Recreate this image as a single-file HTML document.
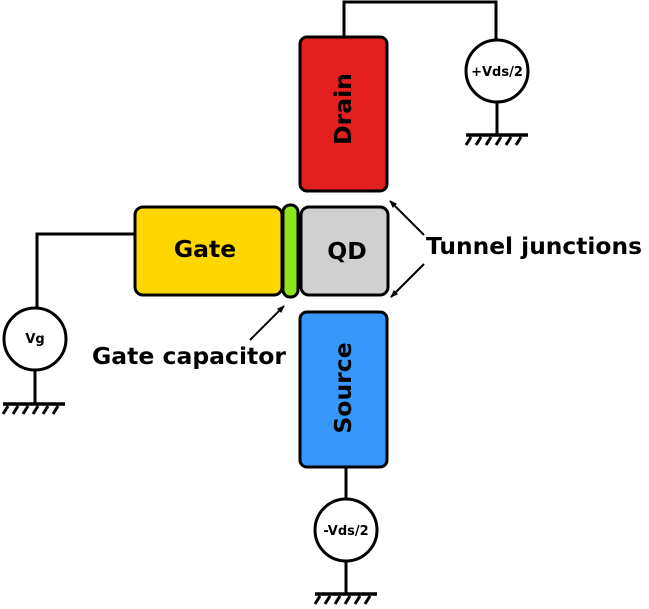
<!DOCTYPE html>
<html><head><style>html,body{margin:0;padding:0;background:#fff;}svg{display:block;}</style></head>
<body>
<svg width="649" height="609" viewBox="0 0 649 609" xmlns="http://www.w3.org/2000/svg" font-family="DejaVu Sans, Liberation Sans, sans-serif" font-weight="bold">
<defs>
<marker id="ar" markerWidth="8" markerHeight="6" refX="7" refY="3" orient="auto" markerUnits="userSpaceOnUse"><path d="M0,0 L8,3 L0,6 Z" fill="#000"/></marker>
<g id="gnd"><line x1="-31" y1="0" x2="31" y2="0" stroke="#000" stroke-width="3.5"/>
<g stroke="#000" stroke-width="3"><line x1="-26" y1="2" x2="-31" y2="10"/><line x1="-16" y1="2" x2="-21" y2="10"/><line x1="-6" y1="2" x2="-11" y2="10"/><line x1="4" y1="2" x2="-1" y2="10"/><line x1="14" y1="2" x2="9" y2="10"/><line x1="24" y1="2" x2="19" y2="10"/></g></g>
</defs>
<g fill="none" stroke="#000" stroke-width="3">
<polyline points="344,37 344,2 496,2 496,40"/>
<line x1="497" y1="102" x2="497" y2="135"/>
<polyline points="135,234 37,234 37,308"/>
<line x1="35" y1="370" x2="35" y2="404"/>
<line x1="346" y1="467" x2="346" y2="499"/>
<line x1="346" y1="561" x2="346" y2="594"/>
</g>
<use href="#gnd" x="497" y="135"/>
<use href="#gnd" x="34" y="404"/>
<use href="#gnd" x="346" y="594"/>
<g stroke="#000" stroke-width="3">
<rect x="300" y="37" width="87" height="154" rx="7" fill="#e31f1f"/>
<rect x="300" y="312" width="87" height="155" rx="7" fill="#3797f8"/>
<rect x="135" y="207" width="147" height="88" rx="8" fill="#ffd700"/>
<rect x="283" y="205" width="15" height="92" rx="7" fill="#8fe31c"/>
<rect x="301" y="207" width="87" height="88" rx="8" fill="#d0d0d0"/>
<circle cx="35" cy="339" r="31" fill="#fff"/>
<circle cx="497" cy="71" r="31" fill="#fff"/>
<circle cx="346" cy="530" r="31" fill="#fff"/>
</g>
<g stroke="#000" stroke-width="2" marker-end="url(#ar)">
<line x1="424" y1="235" x2="390" y2="201"/>
<line x1="424" y1="264" x2="391" y2="297"/>
<line x1="250" y1="340" x2="284" y2="306"/>
</g>
<g fill="#000" text-anchor="middle">
<text x="205" y="257" font-size="23.5">Gate</text>
<text x="347" y="259" font-size="23.5">QD</text>
<text transform="translate(351,109) rotate(-90)" font-size="23.5">Drain</text>
<text transform="translate(351,388) rotate(-90)" font-size="23.5">Source</text>
<text x="35" y="343" font-size="13">Vg</text>
<text x="497" y="76" font-size="13">+Vds/2</text>
<text x="346" y="535" font-size="13">-Vds/2</text>
</g>
<text x="426" y="254" font-size="23" textLength="216" lengthAdjust="spacingAndGlyphs" fill="#000">Tunnel junctions</text>
<text x="92" y="364" font-size="23" textLength="194" lengthAdjust="spacingAndGlyphs" fill="#000">Gate capacitor</text>
</svg>
</body></html>
